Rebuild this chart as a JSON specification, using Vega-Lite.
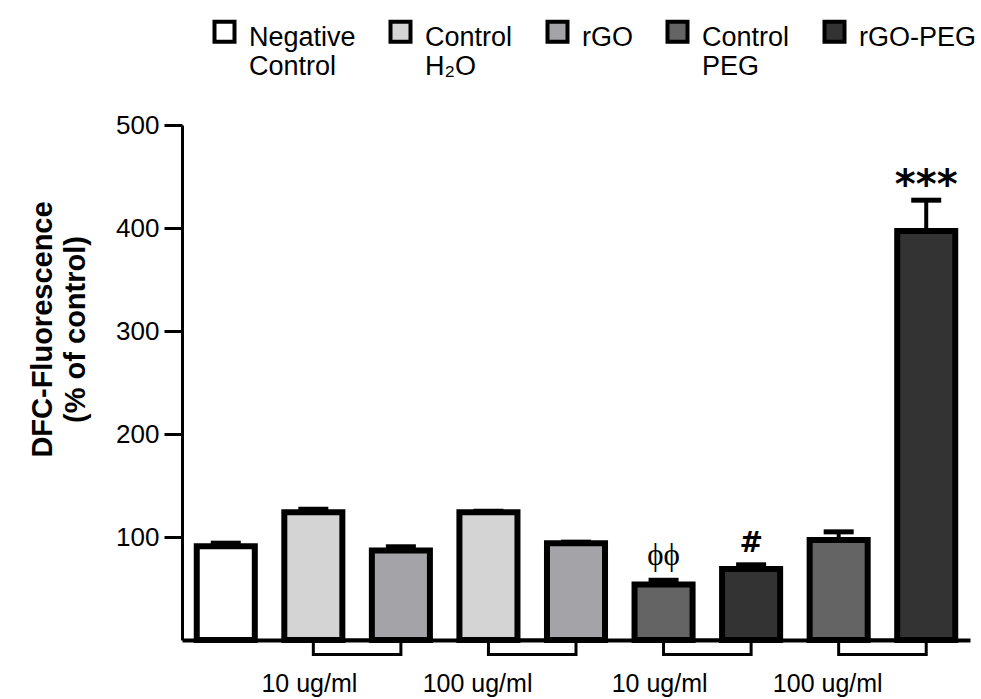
{
  "$schema": "https://vega.github.io/schema/vega-lite/v6.json",
  "width": 788,
  "height": 515,
  "autosize": {"type": "none"},
  "padding": {"left": 182, "top": 125, "right": 11, "bottom": 59},
  "config": {"view": {"stroke": null}, "font": "Liberation Sans"},
  "datasets": {
    "bars": [
      {"bar": "b1", "group": "Negative Control", "value": 91, "upper": 94, "sig": ""},
      {"bar": "b2", "group": "Control H₂O", "value": 124, "upper": 127, "sig": ""},
      {"bar": "b3", "group": "rGO", "value": 87, "upper": 90.5, "sig": ""},
      {"bar": "b4", "group": "Control H₂O", "value": 124, "upper": 125, "sig": ""},
      {"bar": "b5", "group": "rGO", "value": 94, "upper": 95, "sig": ""},
      {"bar": "b6", "group": "Control PEG", "value": 54, "upper": 58, "sig": "ϕϕ"},
      {"bar": "b7", "group": "rGO-PEG", "value": 69, "upper": 73, "sig": "#"},
      {"bar": "b8", "group": "Control PEG", "value": 97, "upper": 105, "sig": ""},
      {"bar": "b9", "group": "rGO-PEG", "value": 397, "upper": 427, "sig": "***"}
    ],
    "pairs": [
      {"conc": "10 ug/ml", "from": "b2", "to": "b3"},
      {"conc": "100 ug/ml", "from": "b4", "to": "b5"},
      {"conc": "10 ug/ml", "from": "b6", "to": "b7"},
      {"conc": "100 ug/ml", "from": "b8", "to": "b9"}
    ]
  },
  "layer": [
    {
      "data": {"name": "pairs"},
      "mark": {"type": "rect", "fill": "white", "stroke": "black", "strokeWidth": 3},
      "encoding": {
        "x": {"field": "from", "type": "nominal", "bandPosition": 0.5},
        "x2": {"field": "to", "bandPosition": 0.5},
        "y": {"datum": 0},
        "y2": {"datum": -14}
      }
    },
    {
      "data": {"name": "bars"},
      "mark": {"type": "bar", "stroke": "black", "strokeWidth": 6},
      "encoding": {
        "x": {
          "field": "bar",
          "type": "nominal",
          "sort": null,
          "scale": {"domain": ["b1","b2","b3","b4","b5","b6","b7","b8","b9"], "paddingInner": 0.337, "paddingOuter": 0.1685},
          "axis": {
            "title": null,
            "ticks": false,
            "tickSize": 0,
            "domainWidth": 4,
            "domainColor": "black",
            "labelExpr": "datum.label == 'b2' ? '10 ug/ml' : datum.label == 'b4' ? '100 ug/ml' : datum.label == 'b6' ? '10 ug/ml' : datum.label == 'b8' ? '100 ug/ml' : ''",
            "labelOffset": 44,
            "labelPadding": 31,
            "labelFontSize": 25,
            "labelAngle": 0,
            "labelBaseline": "top",
            "labelColor": "black",
            "labelOverlap": false
          }
        },
        "y": {
          "field": "value",
          "type": "quantitative",
          "scale": {"domain": [0, 500], "nice": false},
          "axis": {
            "title": ["DFC-Fluorescence", "(% of control)"],
            "values": [100, 200, 300, 400, 500],
            "tickSize": 18,
            "tickWidth": 3,
            "tickColor": "black",
            "domainWidth": 3,
            "domainColor": "black",
            "labelFontSize": 26,
            "labelColor": "black",
            "labelPadding": 5,
            "grid": false,
            "titleFontSize": 29,
            "titleFontWeight": "bold",
            "titleColor": "black",
            "titleX": -140,
            "titleY": 204,
            "titleAngle": -90,
            "titleAlign": "center",
            "titleBaseline": "middle",
            "titleLineHeight": 33
          }
        },
        "color": {
          "field": "group",
          "type": "nominal",
          "scale": {
            "domain": ["Negative Control", "Control H₂O", "rGO", "Control PEG", "rGO-PEG"],
            "range": ["#ffffff", "#d4d4d4", "#a3a3a8", "#646464", "#333333"]
          },
          "legend": {
            "title": null,
            "orient": "none",
            "legendX": 29,
            "legendY": -107,
            "direction": "horizontal",
            "columns": 5,
            "padding": 0,
            "symbolType": "square",
            "symbolSize": 400,
            "symbolStrokeColor": "black",
            "symbolStrokeWidth": 4,
            "symbolOpacity": 1,
            "labelFontSize": 27,
            "labelColor": "black",
            "labelOffset": 11,
            "columnPadding": 26,
            "labelBaseline": "top",
            "labelLineHeight": 27,
            "labelLimit": 300,
            "labelExpr": "datum.label == 'Negative Control' ? ['Negative', 'Control'] : datum.label == 'Control H₂O' ? ['Control', 'H₂O'] : datum.label == 'Control PEG' ? ['Control', 'PEG'] : [datum.label, ' ']",
            "encode": {"labels": {"update": {"dy": {"value": -7}}}}
          }
        }
      }
    },
    {
      "data": {"name": "bars"},
      "mark": {"type": "rule", "stroke": "black", "strokeWidth": 4},
      "encoding": {
        "x": {"field": "bar", "type": "nominal"},
        "y": {"field": "value", "type": "quantitative"},
        "y2": {"field": "upper"}
      }
    },
    {
      "data": {"name": "bars"},
      "mark": {"type": "tick", "color": "black", "thickness": 5, "size": 30, "opacity": 1},
      "encoding": {
        "x": {"field": "bar", "type": "nominal"},
        "y": {"field": "upper", "type": "quantitative"}
      }
    },
    {
      "data": {"name": "bars"},
      "transform": [{"filter": "datum.sig == 'ϕϕ'"}],
      "mark": {"type": "text", "font": "Liberation Serif", "fontSize": 31, "baseline": "alphabetic", "dy": -15, "color": "black"},
      "encoding": {
        "x": {"field": "bar", "type": "nominal"},
        "y": {"field": "upper", "type": "quantitative"},
        "text": {"field": "sig"}
      }
    },
    {
      "data": {"name": "bars"},
      "transform": [{"filter": "datum.sig == '#'"}],
      "mark": {"type": "text", "font": "DejaVu Sans", "fontSize": 28, "fontWeight": "bold", "baseline": "alphabetic", "dy": -13, "color": "black"},
      "encoding": {
        "x": {"field": "bar", "type": "nominal"},
        "y": {"field": "upper", "type": "quantitative"},
        "text": {"field": "sig"}
      }
    },
    {
      "data": {"name": "bars"},
      "transform": [{"filter": "datum.sig == '***'"}],
      "mark": {"type": "text", "font": "DejaVu Sans", "fontSize": 40, "fontWeight": "bold", "baseline": "alphabetic", "dy": -2, "color": "black"},
      "encoding": {
        "x": {"field": "bar", "type": "nominal"},
        "y": {"field": "upper", "type": "quantitative"},
        "text": {"field": "sig"}
      }
    }
  ]
}
